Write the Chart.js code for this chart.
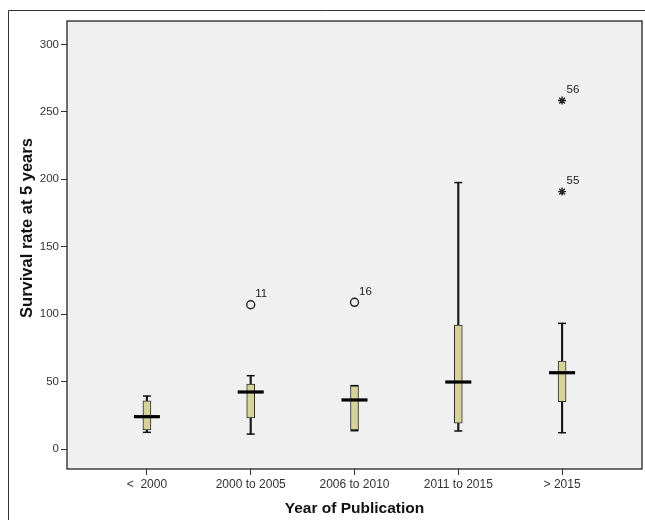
<!DOCTYPE html>
<html>
<head>
<meta charset="utf-8">
<script src="https://cdn.jsdelivr.net/npm/chart.js@4/dist/chart.umd.min.js"></script>
<style>
  html, body { margin: 0; padding: 0; background: #ffffff; }
  #wrap { position: relative; width: 645px; height: 520px; }
</style>
</head>
<body>
<div id="wrap"><canvas id="c" width="645" height="520"></canvas></div>
<script>
// ---- data ----
const categories = ['<  2000', '2000 to 2005', '2006 to 2010', '2011 to 2015', '> 2015'];
const whiskerLow  = [12.4, 11.1, 13.6, 13.4, 12.1];
const q1          = [14.1, 23.0, 14.2, 19.1, 35.1];
const median      = [24.0, 42.3, 36.4, 49.7, 56.6];
const q3          = [35.8, 48.2, 47.0, 92.0, 65.3];
const whiskerHigh = [39.3, 54.4, 47.0, 197.6, 93.2];

const outlierGroup = [1, 2, 4, 4];
const outlierValue = [107.0, 108.8, 190.9, 258.4];
const outlierId    = ['11', '16', '55', '56'];
const outlierStyle = ['circle', 'circle', 'star', 'star'];

const yTicks = [0, 50, 100, 150, 200, 250, 300];
const xTitle = 'Year of Publication';
const yTitle = 'Survival rate at 5 years';

// ---- derived datasets ----
const idx = categories.map((c, i) => i);
const whiskerData = idx.map(i => ({ x: i, y: [whiskerLow[i], whiskerHigh[i]] }));
const boxData = idx.map(i => ({ x: i, y: [q1[i], q3[i]] }));
const capData = idx.flatMap(i => [{ x: i, y: whiskerLow[i] }, { x: i, y: whiskerHigh[i] }]);
const medianData = idx.map(i => ({ x: i, y: median[i] }));
const outlierData = outlierGroup.map((g, j) => ({ x: g, y: outlierValue[j] }));

const FONT = '"Liberation Sans", Arial, sans-serif';

const decor = {
  id: 'decor',
  beforeDraw(chart) {
    const { ctx, chartArea: a } = chart;
    ctx.save();
    ctx.strokeStyle = '#333';
    ctx.lineWidth = 1;
    ctx.beginPath();
    ctx.moveTo(8.5, 520);
    ctx.lineTo(8.5, 10.5);
    ctx.lineTo(645, 10.5);
    ctx.stroke();
    ctx.fillStyle = '#f0f0f0';
    ctx.fillRect(a.left, a.top, a.right - a.left, a.bottom - a.top);
    ctx.restore();
  },
  afterDraw(chart) {
    const { ctx, chartArea: a } = chart;
    ctx.save();
    ctx.strokeStyle = '#222';
    ctx.lineWidth = 1.3;
    ctx.strokeRect(a.left, a.top, a.right - a.left, a.bottom - a.top);
    const meta = chart.getDatasetMeta(4);
    ctx.fillStyle = '#222';
    ctx.font = '11.5px ' + FONT;
    ctx.textAlign = 'left';
    ctx.textBaseline = 'middle';
    meta.data.forEach((p, j) => {
      ctx.fillText(outlierId[j], p.x + 4.5, p.y - 10.5);
    });
    ctx.fillStyle = '#111';
    ctx.textAlign = 'center';
    ctx.textBaseline = 'middle';
    ctx.font = 'bold 15.5px ' + FONT;
    ctx.fillText(xTitle, (a.left + a.right) / 2, 509);
    ctx.font = 'bold 16.5px ' + FONT;
    ctx.translate(27, 228);
    ctx.rotate(-Math.PI / 2);
    ctx.fillText(yTitle, 0, 0);
    ctx.restore();
  }
};

new Chart(document.getElementById('c'), {
  type: 'bar',
  data: {
    datasets: [
      { type: 'bar', data: whiskerData, backgroundColor: '#1a1a1a', borderWidth: 0,
        barThickness: 1.5, grouped: false, order: 5 },
      { type: 'bar', data: boxData, backgroundColor: '#d7d29a', borderColor: '#2a2a2a',
        borderWidth: 1, borderSkipped: false, barThickness: 8, grouped: false, order: 4 },
      { type: 'scatter', data: capData, pointStyle: 'line', radius: 4, borderWidth: 1.5,
        borderColor: '#111', order: 3 },
      { type: 'scatter', data: medianData, pointStyle: 'line', radius: 13, borderWidth: 3.2,
        borderColor: '#000', order: 2 },
      { type: 'scatter', data: outlierData, pointStyle: c => outlierStyle[c.dataIndex],
        radius: 4, borderWidth: 1.4,
        borderColor: '#222', backgroundColor: 'rgba(0,0,0,0)', order: 1 }
    ]
  },
  options: {
    responsive: false,
    animation: false,
    events: [],
    layout: { autoPadding: false, padding: { left: 0, top: 21, right: 3, bottom: 0 } },
    plugins: { legend: { display: false }, tooltip: { enabled: false } },
    scales: {
      x: {
        type: 'linear',
        offset: false,
        min: -0.77, max: 4.77,
        afterBuildTicks: s => { s.ticks = idx.map(i => ({ value: i })); },
        afterFit: s => { s.height = 51; s.paddingLeft = 0; s.paddingRight = 0; },
        grid: { offset: false, drawOnChartArea: false, drawTicks: true, tickLength: 6, color: '#333', lineWidth: 1 },
        border: { display: false },
        ticks: { callback: v => categories[v], color: '#333', font: { family: FONT, size: 12 },
                 padding: 2, maxRotation: 0, autoSkip: false }
      },
      y: {
        type: 'linear',
        min: -14.8, max: 317.4,
        afterBuildTicks: s => { s.ticks = yTicks.map(v => ({ value: v })); },
        afterFit: s => { s.width = 67; },
        grid: { drawOnChartArea: false, drawTicks: true, tickLength: 6, color: '#333', lineWidth: 1 },
        border: { display: false },
        ticks: { color: '#333', font: { family: FONT, size: 11.5 }, padding: 2 }
      }
    }
  },
  plugins: [decor]
});
</script>
</body>
</html>
